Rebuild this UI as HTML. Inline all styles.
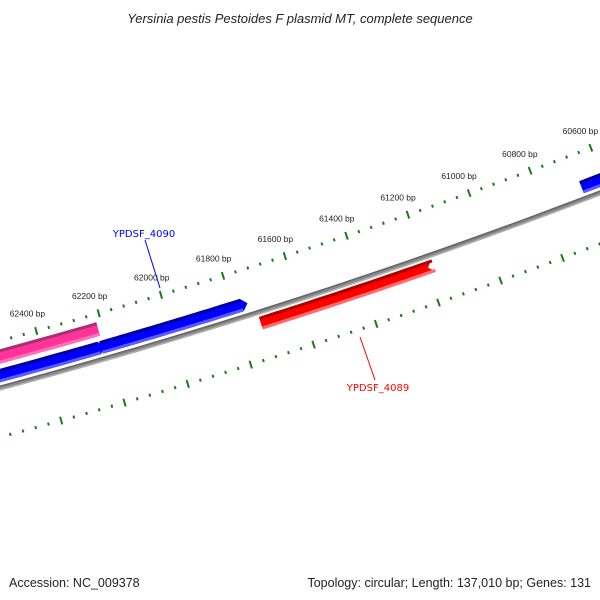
<!DOCTYPE html>
<html><head><meta charset="utf-8"><style>
body{margin:0;background:#fff;width:600px;height:600px;overflow:hidden;font-family:"Liberation Sans",sans-serif}
svg{position:absolute;left:0;top:0}
</style></head><body>
<svg id="map" width="600" height="600" xmlns="http://www.w3.org/2000/svg">
<text x="300" y="23" text-anchor="middle" font-size="13" font-style="italic" fill="#222" font-family="Liberation Sans, sans-serif">Yersinia pestis Pestoides F plasmid MT, complete sequence</text>
<text x="9" y="587" font-size="12.5" fill="#222" font-family="Liberation Sans, sans-serif">Accession: NC_009378</text>
<text x="591" y="587" text-anchor="end" font-size="12.5" fill="#222" font-family="Liberation Sans, sans-serif">Topology: circular; Length: 137,010 bp; Genes: 131</text>
<g id="layer"></g>
<line x1="145" y1="240" x2="160" y2="288" stroke="#0000ff" stroke-width="1"/>
<text x="144" y="237" text-anchor="middle" font-size="10" fill="#0000ff" font-family="DejaVu Sans, sans-serif">YPDSF_4090</text>
<line x1="360" y1="337" x2="375" y2="380" stroke="#ff0000" stroke-width="1"/>
<text x="378" y="391" text-anchor="middle" font-size="10" fill="#ff0000" font-family="DejaVu Sans, sans-serif">YPDSF_4089</text>
</svg>
<script>
const tickStart = 59000;
const tickEnd = 64000;
const minorStep = 40;
const majorStep = 200;
const geneNames = ["pink-gene","blue-gene-1","blue-gene-2","blue-gene-3","ypdsf-4089-gene"];
const geneStarts = [63500, 63500, 62222, 60670, 61733];
const geneEnds = [62215, 62228, 61772, 60000, 61177];
const geneStrands = [2, 1, 1, 1, -1];

const NS="http://www.w3.org/2000/svg";
const layer=document.getElementById('layer');
const cx=-1599, cy=-5552, R=6151;
const k=0.327/R;
const th0=Math.atan2(295-cy,161-cx);
function ang(bp){return th0+(bp-62000)*k;}
function pt(bp,r){const a=ang(bp);return [cx+r*Math.cos(a),cy+r*Math.sin(a)];}
function mk(tag,attrs){const e=document.createElementNS(NS,tag);for(const a in attrs)e.setAttribute(a,attrs[a]);return e;}

function band(b1,b2,r1,r2,fill){
  const pts=[];const n=40;
  for(let i=0;i<=n;i++){pts.push(pt(b1+(b2-b1)*i/n,r1));}
  for(let i=n;i>=0;i--){pts.push(pt(b1+(b2-b1)*i/n,r2));}
  return mk('polygon',{points:pts.map(p=>p[0].toFixed(1)+','+p[1].toFixed(1)).join(' '),fill:fill});
}
function gene(bHi,bLo,r1,r2,dir,col,dark,light){
  const g=mk('g',{});
  const tip=6/0.327;
  const n=40;const pts=[];
  let a=bHi,b=bLo;
  // dir 1: arrow at bLo side; -1: arrow at bHi side
  for(let i=0;i<=n;i++)pts.push(pt(a+(b-a)*i/n,r1));
  if(dir===1)pts.push(pt(b-tip,(r1+r2)/2));
  for(let i=n;i>=0;i--)pts.push(pt(a+(b-a)*i/n,r2));
  if(dir===-1)pts.push(pt(a+tip,(r1+r2)/2));
  g.appendChild(mk('polygon',{points:pts.map(p=>p[0].toFixed(1)+','+p[1].toFixed(1)).join(' '),fill:col}));
  g.appendChild(band(a,b,r1,r1+3,dark));
  g.appendChild(band(a,b,r2-3,r2,light));
  return g;
}

// backbone
const bb=mk('g',{});


bb.appendChild(band(tickStart,tickEnd,R-2,R+3,'#888'));
bb.appendChild(band(tickStart,tickEnd,R-2,R-0.5,'#666'));
bb.appendChild(band(tickStart,tickEnd,R+1.5,R+3,'#b0b0b0'));
layer.appendChild(bb);

// ticks
const tickG=mk('g',{});


layer.appendChild(tickG);
for(let bp=tickStart;bp<=tickEnd;bp+=minorStep){
  const major=bp%majorStep===0;
  const half=major?4:1.5;
  [R-45,R+48].forEach(rr=>{
    const p1=pt(bp,rr-half),p2=pt(bp,rr+half);
    const l=mk('line',{x1:p1[0],y1:p1[1],x2:p2[0],y2:p2[1],stroke:'#1a7a1a','stroke-width':2});
    
    
    tickG.appendChild(l);
  });
  if(major){
    const p=pt(bp,R-63);
    const t=mk('text',{x:p[0]-4,y:p[1]+3,'text-anchor':'middle','font-size':'8.5',fill:'#222','font-family':'Liberation Sans, sans-serif'});
    
    
    t.textContent=bp+' bp';
    tickG.appendChild(t);
  }
}

// genes
for(let i=0;i<geneNames.length;i++){
  let g;
  const s=geneStrands[i];
  if(s===2) g=gene(geneStarts[i],geneEnds[i],R-37,R-23,0,'#ff3399','#a8306e','#ff70b8');
  else if(s===1) g=gene(geneStarts[i],geneEnds[i],R-18,R-5,1,'#0000ff','#0000a0','#5a5aff');
  else g=gene(geneEnds[i],geneStarts[i],R+5,R+18,-1,'#ff0000','#b00000','#ff6a6a');
  
  
  layer.appendChild(g);
}
</script>
</body></html>
